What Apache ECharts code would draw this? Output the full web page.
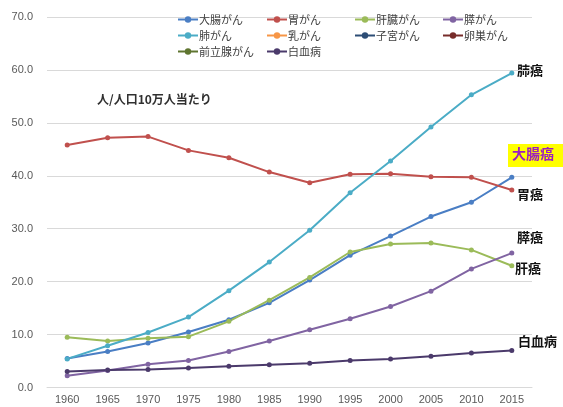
<!DOCTYPE html>
<html><head><meta charset="utf-8">
<script src="https://cdn.jsdelivr.net/npm/echarts@6/dist/echarts.min.js"></script>
<style>html,body{margin:0;padding:0;background:#fff}#c{width:563px;height:407px}</style>
</head><body><div id="c"></div>
<script>
const years = ['1960','1965','1970','1975','1980','1985','1990','1995','2000','2005','2010','2015'];
const yTicks = [0,10,20,30,40,50,60,70];
const colorectal = [5.5,6.8,8.4,10.5,12.8,16.0,20.3,25.0,28.6,32.3,35.0,39.7];
const stomach = [45.8,47.2,47.4,44.8,43.4,40.7,38.7,40.3,40.4,39.8,39.7,37.3];
const liver = [9.5,8.8,9.3,9.6,12.5,16.5,20.8,25.6,27.1,27.3,26.0,23.0];
const pancreas = [2.2,3.2,4.4,5.1,6.8,8.8,10.9,13.0,15.3,18.2,22.4,25.4];
const lung = [5.4,7.9,10.4,13.3,18.3,23.7,29.7,36.8,42.8,49.2,55.3,59.4];
const breast = [];
const uterus = [];
const ovary = [];
const prostate = [];
const leukemia = [3.0,3.3,3.4,3.7,4.0,4.3,4.6,5.1,5.4,5.9,6.5,7.0];
const seriesNames = ['大腸がん','胃がん','肝臓がん','膵がん','肺がん','乳がん','子宮がん','卵巣がん','前立腺がん','白血病'];
const seriesData = [colorectal,stomach,liver,pancreas,lung,breast,uterus,ovary,prostate,leukemia];
const colors = ['#4A7EC4','#C0504D','#9BBB59','#8064A2','#4BACC6','#F79646','#2C4D75','#772C2A','#5F7530','#4B3A6B'];
const unitText = '人/人口10万人当たり';
const endLabels = [
  {text:'肺癌', x:517, y:72},
  {text:'胃癌', x:517, y:196},
  {text:'膵癌', x:517, y:239},
  {text:'肝癌', x:515, y:270},
  {text:'白血病', x:518, y:343}
];
const FONT = '"Noto Sans CJK JP", "Noto Sans", sans-serif';
const NUMFONT = '"Liberation Sans", Arial, sans-serif';
const chart = echarts.init(document.getElementById('c'));
const legendCols = [
  ['大腸がん','肺がん','前立腺がん'],
  ['胃がん','乳がん','白血病'],
  ['肝臓がん','子宮がん'],
  ['膵がん','卵巣がん']
];
const legendLeft = [177, 266, 354, 442];
const legends = legendCols.map((col,i)=>({
  data: col, orient:'vertical', left: legendLeft[i], top: 14,
  itemWidth: 20, itemHeight: 8, itemGap: 5, padding: 0,
  textStyle: {fontFamily: FONT, fontSize: 11, color:'#404040', padding:[0,0,0,-4]}
}));
const graphics = endLabels.map(l=>({
  type:'text', left:l.x, top:l.y-8,
  style:{text:l.text, font:'bold 13px '+FONT, fill:'#111'}
}));
graphics.push({
  type:'rect', left:508, top:144, shape:{width:55, height:23}, style:{fill:'#FFFF00'}
});
graphics.push({
  type:'text', left:512, top:147,
  style:{text:'大腸癌', font:'bold 14px '+FONT, fill:'#9B1FBF'}
});
graphics.push({
  type:'text', left:97, top:93,
  style:{text:unitText, font:'bold 12px '+FONT, fill:'#303030'}
});
chart.setOption({
  animation:false,
  color: colors,
  legend: legends,
  grid: {left:47, right:31, top:17, bottom:19.5, containLabel:false},
  xAxis: {type:'category', data: years, boundaryGap:true,
    axisLine:{show:true, lineStyle:{color:'#D9D9D9'}}, axisTick:{show:false},
    axisLabel:{fontFamily:NUMFONT, fontSize:11, color:'#595959', margin:7}},
  yAxis: {type:'value', min:yTicks[0], max:yTicks[yTicks.length-1], interval:10,
    axisLine:{show:false}, axisTick:{show:false},
    splitLine:{lineStyle:{color:'#D9D9D9'}},
    axisLabel:{fontFamily:NUMFONT, fontSize:11, color:'#595959', margin:14, formatter:v=>v.toFixed(1)}},
  graphic: graphics,
  series: seriesNames.map((n,i)=>({
    name:n, type:'line', data: seriesData[i],
    symbol:'circle', symbolSize:5, lineStyle:{width:2}, itemStyle:{color:colors[i]}
  }))
});
</script></body></html>
